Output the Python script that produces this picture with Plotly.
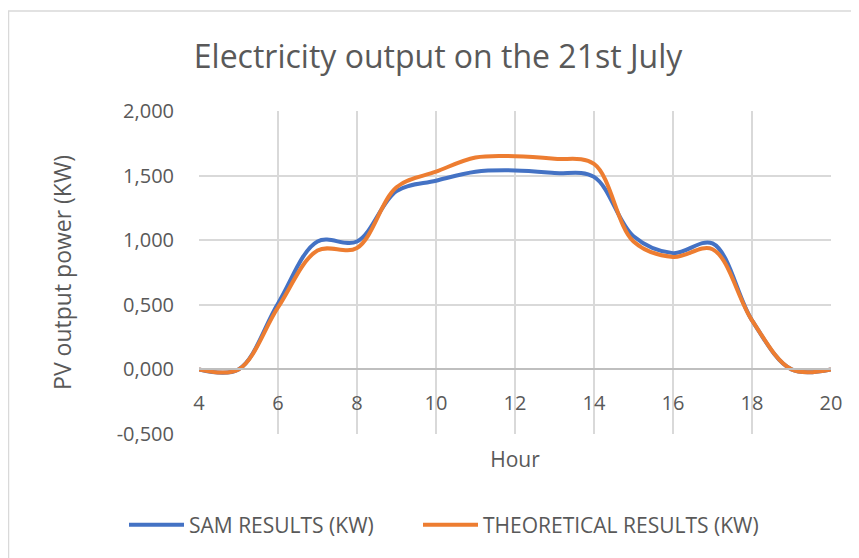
import plotly.graph_objects as go

hours = [4, 5, 6, 7, 8, 9, 10, 11, 12, 13, 14, 15, 16, 17, 18, 19, 20]
sam_results = [0.0, 0.0, 0.51, 0.99, 0.99, 1.38, 1.46, 1.53, 1.54, 1.52, 1.49, 1.03, 0.90, 0.975, 0.38, 0.0, 0.0]
theoretical_results = [0.0, 0.0, 0.48, 0.92, 0.94, 1.41, 1.53, 1.64, 1.65, 1.63, 1.59, 0.99, 0.87, 0.93, 0.38, 0.0, 0.0]

y_tickvals = [-0.5, 0.0, 0.5, 1.0, 1.5, 2.0]
y_ticktext = ["-0,500", "0,000", "0,500", "1,000", "1,500", "2,000"]
x_tickvals = [4, 6, 8, 10, 12, 14, 16, 18, 20]

OFF = 8  # page body margin
W, H = 859 - OFF, 558 - OFF
TXT = "#595959"
FONT = "Open Sans"

fig = go.Figure()
fig.add_trace(go.Scatter(x=hours, y=sam_results, mode="lines", name="SAM RESULTS (KW)", legend="legend",
                         line=dict(color="#4472C4", width=4, shape="spline", smoothing=1)))
fig.add_trace(go.Scatter(x=hours, y=theoretical_results, mode="lines", name="THEORETICAL RESULTS (KW)",
                         legend="legend2",
                         line=dict(color="#ED7D31", width=4, shape="spline", smoothing=1)))

L, R, T, B = 199 - OFF, 28, 111 - OFF, 124
PW, PH = W - L - R, H - T - B
ymin, ymax = -0.5, 2.0
zero_pos = (0 - ymin) / (ymax - ymin)
leg_y = -(525 - OFF - (H - B)) / PH
leg1_x = (130 - 6 - OFF - L) / PW
leg2_x = (424 - 6 - OFF - L) / PW

fig.update_layout(
    width=W, height=H,
    margin=dict(l=L, r=R, t=T, b=B),
    paper_bgcolor="white", plot_bgcolor="white",
    font=dict(family=FONT, color=TXT, size=18),
    title=dict(text="Electricity output on the 21st July", x=(438 - OFF) / W, xanchor="center",
               y=1 - (57 - OFF) / H, yanchor="middle", font=dict(size=32, color=TXT, family=FONT)),
    xaxis=dict(range=[4, 20], tickvals=x_tickvals, showgrid=True, gridcolor="#d9d9d9", gridwidth=1.5,
               anchor="free", position=zero_pos, showline=True, linecolor="#bfbfbf", linewidth=2,
               ticks="", zeroline=False, tickfont=dict(size=20, color=TXT), ticklabelstandoff=16,
               title=dict(text="Hour", standoff=36, font=dict(size=21, color=TXT))),
    yaxis=dict(range=[ymin, ymax], tickvals=y_tickvals, ticktext=y_ticktext, showgrid=True,
               gridcolor="#d9d9d9", gridwidth=1.5, zeroline=False, ticks="", ticklabelstandoff=24,
               tickfont=dict(size=20, color=TXT),
               title=dict(text="PV output power (KW)", standoff=38, font=dict(size=23, color=TXT))),
    legend=dict(orientation="h", x=leg1_x, xanchor="left", y=leg_y, yanchor="middle",
                font=dict(size=21, color=TXT), itemwidth=55, bgcolor="rgba(0,0,0,0)"),
    legend2=dict(orientation="h", x=leg2_x, xanchor="left", y=leg_y, yanchor="middle",
                 font=dict(size=21, color=TXT), itemwidth=55, bgcolor="rgba(0,0,0,0)"),
    showlegend=True,
)

fig.add_shape(type="rect", xref="paper", yref="paper",
              x0=(0.5 - L) / PW, x1=(W + 20 - L) / PW,
              y0=-(H + 20 - (H - B)) / PH, y1=1 + (T - (11 - OFF)) / PH,
              line=dict(color="#d9d9d9", width=1.5), layer="below")

fig.write_html("out.html")
